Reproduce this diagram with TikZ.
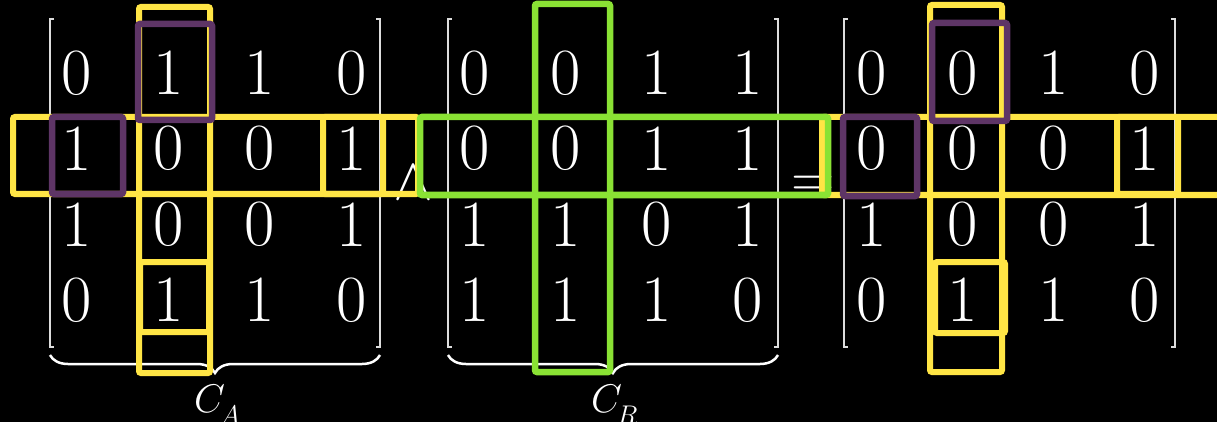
\RequirePackage{fix-cm}
\documentclass[tikz,border=0pt]{standalone}
\usetikzlibrary{decorations.pathreplacing}
\definecolor{hlyellow}{HTML}{FFE545}
\definecolor{hlgreen}{HTML}{8AE234}
\definecolor{hlpurple}{HTML}{5E3566}
\definecolor{brk}{HTML}{DDDDDD}
\begin{document}
\begin{tikzpicture}[x=1pt,y=-1pt,
  entry/.style={text=white,inner sep=0pt,font=\fontsize{66}{66}\selectfont},
  opsym/.style={text=white,inner sep=0pt,anchor=base,font=\fontsize{60}{60}\selectfont},
  ybox/.style={draw=hlyellow,line width=6pt,rounded corners=2pt},
  gbox/.style={draw=hlgreen,line width=6.5pt,rounded corners=2pt},
  pbox/.style={draw=hlpurple,line width=6.5pt,rounded corners=2pt},
  bracketline/.style={draw=brk,line width=1.8pt},
  bracebrace/.style={draw=white,line width=2.5pt,decorate,decoration={brace,mirror,amplitude=18pt}},
  lbl/.style={text=white,inner sep=0pt,anchor=base west}]
\fill[black] (0,0) rectangle (1217,422);
\useasboundingbox (0,0) rectangle (1217,422);
% brackets
\foreach \l/\r in {50/380,448/778,844/1175}{
  \draw[bracketline] (\l+4,19) -- (\l,19) -- (\l,347) -- (\l+4,347);
  \draw[bracketline] (\r-4,19) -- (\r,19) -- (\r,347) -- (\r-4,347);
}
% entries
\foreach \row [count=\i] in {{0,1,1,0},{1,0,0,1},{1,0,0,1},{0,1,1,0}}
  \foreach \v [count=\j] in \row
    \node[entry] (a\i\j) at ({77+91.5*(\j-1)},{73+75.7*(\i-1)}) {\v};
\foreach \row [count=\i] in {{0,0,1,1},{0,0,1,1},{1,1,0,1},{1,1,1,0}}
  \foreach \v [count=\j] in \row
    \node[entry] (b\i\j) at ({475+91*(\j-1)},{73+75.7*(\i-1)}) {\v};
\foreach \row [count=\i] in {{0,0,1,0},{0,0,0,1},{1,0,0,1},{0,1,1,0}}
  \foreach \v [count=\j] in \row
    \node[entry] (c\i\j) at ({872+91*(\j-1)},{73+75.7*(\i-1)}) {\v};
% operators
\node[opsym] (andop) at (413,200) {$\wedge$};
\node[opsym] (eqop) at (813,197) {$=$};
% braces and labels
\draw[bracebrace] (50,355) -- (380,355);
\draw[bracebrace] (448,355) -- (778,355);
\node[lbl] (ca) at (194,412) {\fontsize{40}{40}\selectfont$C$\kern-5pt\raisebox{-12pt}{\fontsize{27}{27}\selectfont$A$}};
\node[lbl] (cr) at (591,412) {\fontsize{40}{40}\selectfont$C$\kern-5pt\raisebox{-12pt}{\fontsize{27}{27}\selectfont$R$}};
% yellow highlights
\draw[ybox] (139,7) rectangle (210,373);
\draw[ybox] (13,117) rectangle (418,194);
\draw[ybox] (323,117) rectangle (383,194);
\draw[ybox] (140,262) rectangle (209,332);
\draw[ybox] (930,5) rectangle (1002,372);
\draw[ybox] (822,117) rectangle (1240,195);
\draw[ybox] (1117,117) rectangle (1178,194);
\draw[ybox] (935,262) rectangle (1005,333);
% green highlights
\draw[gbox] (535,4) rectangle (610,372);
\draw[gbox] (420,117) rectangle (828,195);
% purple highlights
\draw[pbox] (138,24) rectangle (212,120);
\draw[pbox] (52,117) rectangle (123,194);
\draw[pbox] (932,23) rectangle (1007,121);
\draw[pbox] (843,117) rectangle (917,196);
\end{tikzpicture}
\end{document}
